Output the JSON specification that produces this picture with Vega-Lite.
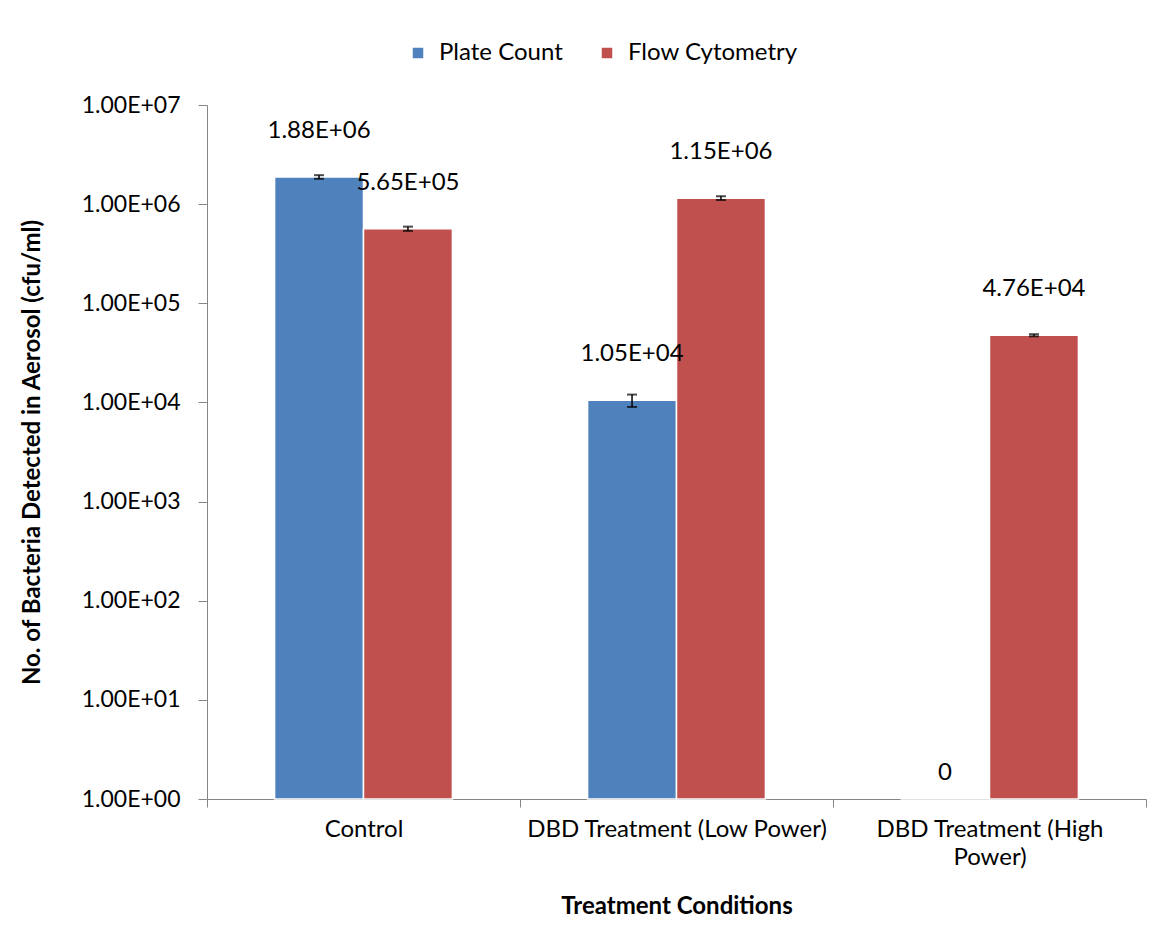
{
  "$schema": "https://vega.github.io/schema/vega-lite/v6.json",
  "width": 939,
  "height": 694,
  "autosize": {"type": "none"},
  "padding": {"left": 207, "top": 105, "right": 16, "bottom": 148},
  "background": "white",
  "config": {
    "font": "Lato",
    "view": {"stroke": null},
    "axis": {"domainColor": "#868686", "tickColor": "#868686", "labelColor": "black", "titleColor": "black", "labelFont": "Lato", "titleFont": "Lato", "labelFontSize": 24, "titleFontSize": 24, "titleFontWeight": "bold", "grid": false}
  },
  "data": {
    "values": [
      {"condition": "Control", "series": "Plate Count", "value": 1880000, "lo": 1800000, "hi": 1960000, "label": "1.88E+06"},
      {"condition": "Control", "series": "Flow Cytometry", "value": 565000, "lo": 537000, "hi": 593000, "label": "5.65E+05"},
      {"condition": "DBD Treatment (Low Power)", "series": "Plate Count", "value": 10500, "lo": 9000, "hi": 12000, "label": "1.05E+04"},
      {"condition": "DBD Treatment (Low Power)", "series": "Flow Cytometry", "value": 1150000, "lo": 1100000, "hi": 1200000, "label": "1.15E+06"},
      {"condition": "DBD Treatment (High Power)", "series": "Plate Count", "value": 0, "lo": null, "hi": null, "label": "0"},
      {"condition": "DBD Treatment (High Power)", "series": "Flow Cytometry", "value": 47600, "lo": 46400, "hi": 48800, "label": "4.76E+04"}
    ]
  },
  "encoding": {
    "x": {
      "field": "condition", "type": "nominal", "sort": null,
      "scale": {"paddingInner": 0, "paddingOuter": 0},
      "axis": {
        "title": "Treatment Conditions", "labelAngle": 0, "tickBand": "extent", "tickSize": 8, "labelPadding": 10,
        "labelExpr": "datum.label == 'DBD Treatment (High Power)' ? ['DBD Treatment (High', 'Power)'] : datum.label",
        "labelLineHeight": 28, "labelLimit": 400,
        "titleY": 107, "titleBaseline": "middle"
      }
    },
    "xOffset": {"field": "series", "type": "nominal", "sort": ["Plate Count", "Flow Cytometry"], "scale": {"paddingInner": 0, "paddingOuter": 0.76}}
  },
  "layer": [
    {
      "mark": {"type": "bar", "stroke": "white", "strokeWidth": 1.5},
      "encoding": {
        "y": {
          "field": "value", "type": "quantitative",
          "scale": {"type": "log", "domain": [1, 10000000], "clamp": true, "nice": false},
          "axis": {
            "title": "No. of Bacteria Detected in Aerosol (cfu/ml)",
            "values": [1, 10, 100, 1000, 10000, 100000, 1000000, 10000000],
            "labelExpr": "'1.00E+0' + round(log(datum.value) / LN10)",
            "labelFontSize": 23,
            "tickSize": 9, "labelPadding": 18,
            "titleX": -175, "titleY": 347, "titleBaseline": "middle", "titleAngle": -90
          }
        },
        "color": {
          "field": "series", "type": "nominal", "sort": ["Plate Count", "Flow Cytometry"],
          "scale": {"domain": ["Plate Count", "Flow Cytometry"], "range": ["#4F81BD", "#C0504D"]},
          "legend": {
            "title": null, "orient": "none", "direction": "horizontal", "legendX": 199, "legendY": -64,
            "symbolType": "square", "symbolSize": 110, "symbolStrokeWidth": 0, "labelFontSize": 24, "labelFont": "Lato",
            "labelOffset": 9, "columnPadding": 32, "labelColor": "black", "labelLimit": 400
          }
        }
      }
    },
    {
      "mark": {"type": "rule", "color": "black", "strokeWidth": 1.5},
      "encoding": {"y": {"field": "lo", "type": "quantitative"}, "y2": {"field": "hi"}}
    },
    {
      "mark": {"type": "tick", "color": "black", "thickness": 2, "size": 10},
      "encoding": {"y": {"field": "lo", "type": "quantitative"}}
    },
    {
      "mark": {"type": "tick", "color": "black", "thickness": 2, "size": 10},
      "encoding": {"y": {"field": "hi", "type": "quantitative"}}
    },
    {
      "transform": [{"filter": "datum.value > 0"}],
      "mark": {"type": "text", "fontSize": 24, "font": "Lato", "dy": -46, "baseline": "middle", "color": "black"},
      "encoding": {"y": {"field": "value", "type": "quantitative"}, "text": {"field": "label"}}
    },
    {
      "transform": [{"filter": "datum.value <= 0"}],
      "mark": {"type": "text", "fontSize": 24, "font": "Lato", "dy": -26, "baseline": "middle", "color": "black", "invalid": "show"},
      "encoding": {"y": {"field": "value", "type": "quantitative"}, "text": {"field": "label"}}
    }
  ]
}
